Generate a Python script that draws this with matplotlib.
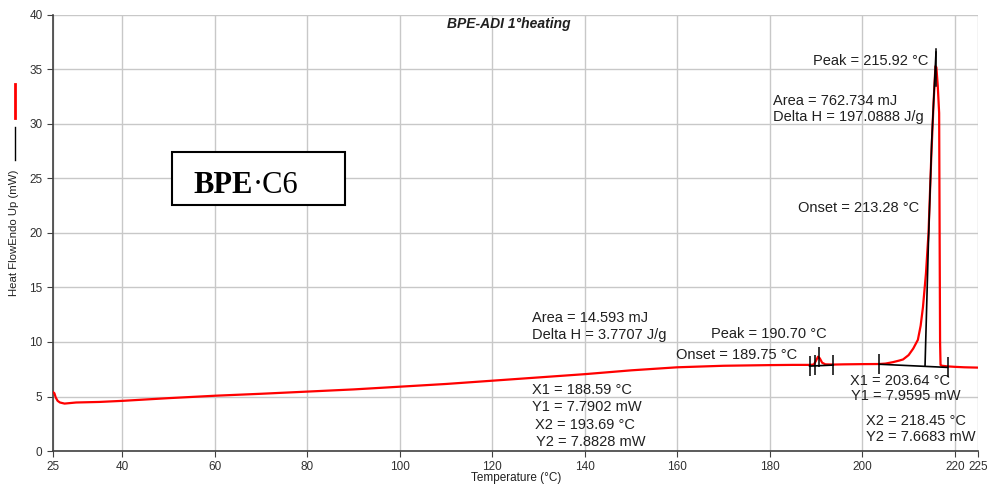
import numpy as np
import matplotlib.pyplot as plt
from matplotlib.lines import Line2D
from matplotlib.patches import Rectangle

# --- data ---
temp = [25.0, 25.3, 25.6, 26.0, 26.5, 27.5, 30, 35, 40, 50, 60, 70, 80, 90, 100,
        110, 120, 130, 140, 150, 160, 170, 180, 185, 188.6, 189.5, 190.0, 190.4,
        190.8, 191.3, 192, 193.7, 196, 200, 203.6, 205, 206.6, 208, 208.8, 210, 211,
        212.0, 212.6, 213.1, 213.75, 214.3, 214.9, 215.4, 215.8, 216.0, 216.3, 216.6,
        216.7, 216.8, 216.9, 217.2, 218.5, 220, 222, 225]
heat_flow = [5.4, 5.3, 4.9, 4.6, 4.45, 4.35, 4.45, 4.5, 4.6, 4.85, 5.07, 5.25, 5.45,
             5.65, 5.9, 6.15, 6.45, 6.75, 7.05, 7.4, 7.68, 7.82, 7.88, 7.9, 7.9, 7.93,
             8.3, 8.65, 8.5, 8.1, 7.95, 7.93, 7.95, 7.97, 7.98, 8.02, 8.15, 8.3, 8.4,
             8.8, 9.4, 10.2, 11.5, 13.2, 16.3, 20.0, 27.0, 32.0, 35.3, 35.2, 33.5,
             31.0, 20.0, 10.0, 7.9, 7.82, 7.76, 7.72, 7.68, 7.65]

# small transition: baseline + markers
small_base_x = [188.59, 193.69]
small_base_y = [7.7902, 7.8828]
small_marks_x = [188.59, 189.75, 190.70, 193.69]
small_marks_y = [7.79, 7.85, 8.65, 7.88]

# melting peak: baseline, onset tangent, markers
big_base_x = [203.64, 218.45]
big_base_y = [7.9595, 7.6683]
tangent_x = [213.55, 214.3, 215.0, 215.92]
tangent_y = [7.85, 19.4, 28.5, 36.6]
big_marks_x = [203.64, 218.45]
big_marks_y = [7.9595, 7.6683]

xticks = [25, 40, 60, 80, 100, 120, 140, 160, 180, 200, 220, 225]
yticks = [0, 5, 10, 15, 20, 25, 30, 35, 40]

fig = plt.figure(figsize=(9.91, 4.86), dpi=100)
ax = fig.add_axes([53 / 991, 35 / 486, 925 / 991, 436 / 486])

ax.plot(temp, heat_flow, color='red', lw=1.6, zorder=3)

ax.plot(small_base_x, small_base_y, color='black', lw=1.2, zorder=4)
ax.plot(small_marks_x, small_marks_y, ls='none', marker='|', ms=14, mew=1.1,
        color='black', zorder=4)
ax.plot(big_base_x, big_base_y, color='black', lw=1.2, zorder=4)
ax.plot(big_marks_x, big_marks_y, ls='none', marker='|', ms=14, mew=1.1,
        color='black', zorder=4)
ax.plot(tangent_x, tangent_y, color='black', lw=1.2, zorder=4)
ax.plot([215.92, 215.92], [33.5, 36.9], color='black', lw=1.1, zorder=4)

ax.set_xlim(25, 225)
ax.set_ylim(0, 40)
ax.set_xticks(xticks)
ax.set_yticks(yticks)
ax.grid(True, color='#c8c8c8', lw=1.0)
ax.set_axisbelow(True)
for s in ['top', 'right']:
    ax.spines[s].set_visible(False)
for s in ['left', 'bottom']:
    ax.spines[s].set_color('#404040')
    ax.spines[s].set_linewidth(1.2)
ax.tick_params(labelsize=8.5, colors='#404040', labelcolor='#303030', length=4)
for lab in ax.get_xticklabels() + ax.get_yticklabels():
    lab.set_family('Liberation Sans')

# annotations
af = dict(family='Liberation Sans', fontsize=10.5, color='#202020')
ax.text(214.2, 35.8, 'Peak = 215.92 °C', ha='right', va='center', **af)
ax.text(180.7, 32.1, 'Area = 762.734 mJ', va='center', **af)
ax.text(180.7, 30.6, 'Delta H = 197.0888 J/g', va='center', **af)
ax.text(186.1, 22.3, 'Onset = 213.28 °C', va='center', **af)
ax.text(128.6, 12.2, 'Area = 14.593 mJ', va='center', **af)
ax.text(128.6, 10.6, 'Delta H = 3.7707 J/g', va='center', **af)
ax.text(167.3, 10.7, 'Peak = 190.70 °C', va='center', **af)
ax.text(159.7, 8.8, 'Onset = 189.75 °C', va='center', **af)
ax.text(128.6, 5.6, 'X1 = 188.59 °C', va='center', **af)
ax.text(128.6, 4.0, 'Y1 = 7.7902 mW', va='center', **af)
ax.text(129.2, 2.4, 'X2 = 193.69 °C', va='center', **af)
ax.text(129.4, 0.8, 'Y2 = 7.8828 mW', va='center', **af)
ax.text(197.3, 6.4, 'X1 = 203.64 °C', va='center', **af)
ax.text(197.5, 5.0, 'Y1 = 7.9595 mW', va='center', **af)
ax.text(200.8, 2.75, 'X2 = 218.45 °C', va='center', **af)
ax.text(200.8, 1.3, 'Y2 = 7.6683 mW', va='center', **af)

# sample label box
ax.add_patch(Rectangle((50.7, 22.6), 37.4, 4.8, fill=True, facecolor='white',
                       edgecolor='black', lw=1.5, zorder=5))
t1 = ax.text(55.3, 23.7, 'BPE', family='Liberation Serif', weight='bold',
             fontsize=22, va='baseline', zorder=6)
ax.annotate('·C6', xy=(1, 0), xycoords=t1, xytext=(0, 0), textcoords='offset points',
            family='Liberation Serif', fontsize=22, va='bottom', zorder=6)

fig.text(509 / 991, 1 - 24 / 486, 'BPE-ADI 1°heating', ha='center', va='center',
         family='Liberation Sans', fontsize=10, weight='bold', style='italic',
         color='#202020')
fig.text(516 / 991, 1 - 478 / 486, 'Temperature (°C)', ha='center', va='center',
         family='Liberation Sans', fontsize=8.5, color='#202020')
fig.text(14 / 991, 1 - 233 / 486, 'Heat FlowEndo Up (mW)', rotation=90,
         ha='center', va='center', family='Liberation Sans', fontsize=8.2,
         color='#202020')
fig.add_artist(Line2D([14.5 / 991, 14.5 / 991], [1 - 118 / 486, 1 - 84 / 486],
                      color='red', lw=2, transform=fig.transFigure))
fig.add_artist(Line2D([14.5 / 991, 14.5 / 991], [1 - 160 / 486, 1 - 127 / 486],
                      color='black', lw=1, transform=fig.transFigure))

fig.savefig('out.png', dpi=100)
